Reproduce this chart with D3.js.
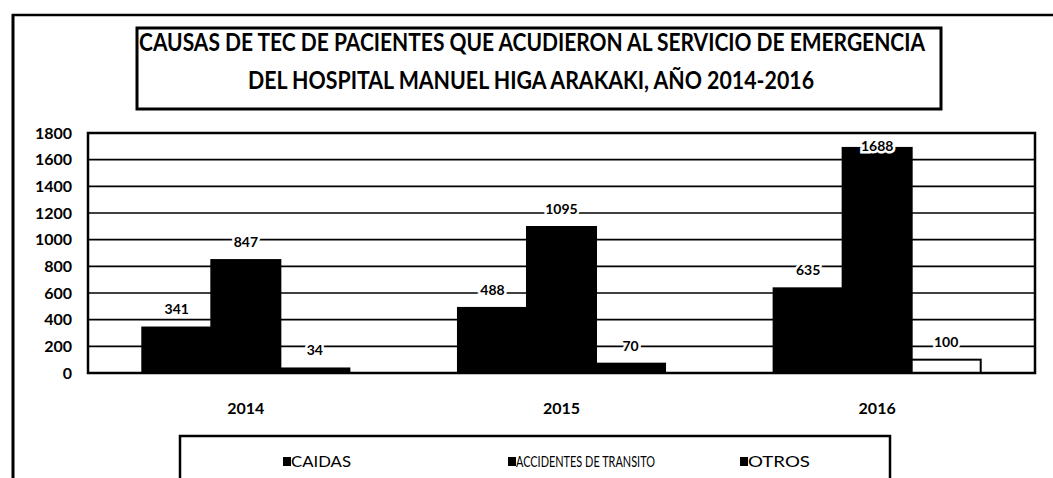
<!DOCTYPE html>
<html>
<head>
<meta charset="utf-8">
<script src="https://cdn.jsdelivr.net/npm/d3@7"></script>
<style>
  body { margin: 0; background: #fff; }
  text { font-family: Lato, "Open Sans", sans-serif; fill: #000; }
</style>
</head>
<body>
<div id="chart"></div>
<script>
// Datos
const years = ["2014", "2015", "2016"];
const seriesNames = ["CAIDAS", "ACCIDENTES DE TRANSITO", "OTROS"];
const caidas = [341, 488, 635];
const accidentes = [847, 1095, 1688];
const otros = [34, 70, 100];
const yTicks = [0, 200, 400, 600, 800, 1000, 1200, 1400, 1600, 1800];
const titleLines = [
    "CAUSAS DE TEC DE PACIENTES QUE ACUDIERON AL SERVICIO DE EMERGENCIA",
    "DEL HOSPITAL MANUEL HIGA ARAKAKI, AÑO 2014-2016"
];

const values = [caidas, accidentes, otros];
const rows = years.map((year, i) => ({
    year,
    bars: seriesNames.map((key, s) => ({ key, year, value: values[s][i] }))
}));

// Configuración
const W = 1053, H = 478;
const margin = { top: 133, right: 18, bottom: 105, left: 88 };
const width = W - margin.left - margin.right;
const height = H - margin.top - margin.bottom;

const root = d3.select("#chart").append("svg")
    .attr("width", W)
    .attr("height", H);

// Marco exterior (izquierda y arriba)
root.append("line").attr("x1", 13).attr("x2", 13).attr("y1", 14).attr("y2", H)
    .attr("stroke", "#000").attr("stroke-width", 3);
root.append("line").attr("x1", 12).attr("x2", W).attr("y1", 15).attr("y2", 15)
    .attr("stroke", "#000").attr("stroke-width", 2.5);

// Caja del título
root.append("rect")
    .attr("x", 137).attr("y", 28).attr("width", 804).attr("height", 81)
    .attr("fill", "#fff").attr("stroke", "#000").attr("stroke-width", 3);

root.append("text")
    .attr("x", 139).attr("y", 51)
    .attr("font-size", 24).attr("font-weight", "bold")
    .attr("textLength", 786).attr("lengthAdjust", "spacingAndGlyphs")
    .text(titleLines[0]);
root.append("text")
    .attr("x", 248).attr("y", 89)
    .attr("font-size", 24).attr("font-weight", "bold")
    .attr("textLength", 566).attr("lengthAdjust", "spacingAndGlyphs")
    .text(titleLines[1]);

const svg = root.append("g")
    .attr("transform", `translate(${margin.left}, ${margin.top})`);

// Escalas
const x0 = d3.scaleBand().domain(years).range([0, width])
    .paddingInner(0.344).paddingOuter(0.172);
const x1 = d3.scaleBand().domain(seriesNames).range([0, x0.bandwidth()]).padding(0);
const y = d3.scaleLinear().domain([0, 1800]).range([height, 0]);

// Líneas de cuadrícula
svg.selectAll(".grid")
    .data(yTicks.filter(t => t > 0 && t < 1800))
    .enter().append("line")
    .attr("class", "grid")
    .attr("x1", 0).attr("x2", width)
    .attr("y1", d => y(d)).attr("y2", d => y(d))
    .attr("stroke", "#000").attr("stroke-width", 1.6);

// Eje Y
const yAxis = svg.append("g")
    .call(d3.axisLeft(y).tickValues(yTicks).tickFormat(d3.format("d")).tickSize(0).tickPadding(16));
yAxis.select(".domain").remove();
yAxis.selectAll("text")
    .attr("font-size", 16).attr("font-weight", "bold")
    .style("font-family", "Lato, 'Open Sans', sans-serif");

// Barras
const groups = svg.selectAll(".year")
    .data(rows)
    .enter().append("g")
    .attr("class", "year")
    .attr("transform", d => `translate(${x0(d.year)}, 0)`);

groups.selectAll("rect")
    .data(d => d.bars)
    .enter().append("rect")
    .attr("x", d => x1(d.key))
    .attr("width", x1.bandwidth())
    .attr("y", d => y(d.value))
    .attr("height", d => height - y(d.value))
    .attr("fill", d => (d.key === "OTROS" && d.year === "2016") ? "#fff" : "#000")
    .attr("stroke", "#000")
    .attr("stroke-width", 2);

// Etiquetas de valores
groups.selectAll(".val")
    .data(d => d.bars)
    .enter().append("text")
    .attr("class", "val")
    .attr("x", d => x1(d.key) + x1.bandwidth() / 2)
    .attr("y", d => Math.max(y(d.value) - 18, 13))
    .attr("dy", "0.35em")
    .attr("text-anchor", "middle")
    .attr("font-size", 14).attr("font-weight", "bold")
    .attr("stroke", "#fff").attr("stroke-width", 5)
    .attr("paint-order", "stroke")
    .text(d => d.value);

// Marco del gráfico
svg.append("rect")
    .attr("x", 0).attr("y", 0).attr("width", width).attr("height", height)
    .attr("fill", "none").attr("stroke", "#000").attr("stroke-width", 2.5);

// Eje X (etiquetas de año)
svg.selectAll(".xlab")
    .data(years)
    .enter().append("text")
    .attr("class", "xlab")
    .attr("x", d => x0(d) + x0.bandwidth() / 2)
    .attr("y", height + 35)
    .attr("dy", "0.35em")
    .attr("text-anchor", "middle")
    .attr("font-size", 16).attr("font-weight", "bold")
    .text(d => d);

// Leyenda
root.append("rect")
    .attr("x", 180).attr("y", 436).attr("width", 710).attr("height", 60)
    .attr("fill", "#fff").attr("stroke", "#000").attr("stroke-width", 2.5);

const legendX = [283, 508, 740];
const legendW = [60, 139, 62];
const legend = root.selectAll(".legend")
    .data(seriesNames)
    .enter().append("g")
    .attr("class", "legend")
    .attr("transform", (d, i) => `translate(${legendX[i]}, 462)`);

legend.append("rect")
    .attr("x", 0).attr("y", -5).attr("width", 8).attr("height", 9)
    .attr("fill", "#000");

legend.append("text")
    .attr("x", 8).attr("dy", "0.35em")
    .attr("font-size", 15)
    .attr("textLength", (d, i) => legendW[i])
    .attr("lengthAdjust", "spacingAndGlyphs")
    .text(d => d);
</script>
</body>
</html>
